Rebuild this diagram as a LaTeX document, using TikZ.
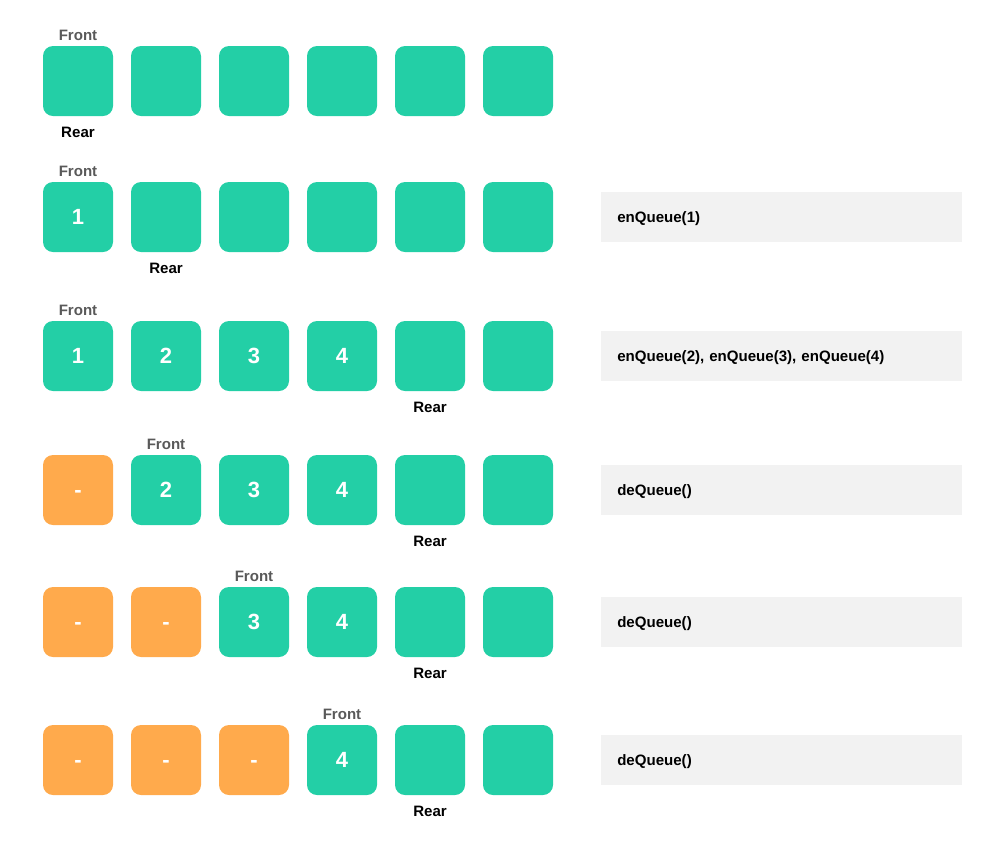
\documentclass[tikz,border=0pt]{standalone}
\usepackage{fontspec}
\setmainfont{Liberation Sans}
\usetikzlibrary{positioning}
\definecolor{cellgreen}{HTML}{23CFA6}
\definecolor{cellorange}{HTML}{FFAA4C}
\definecolor{opgray}{HTML}{F2F2F2}
\definecolor{frontgray}{HTML}{595959}
\tikzset{
  cell/.style={rectangle, rounded corners=7.5pt, minimum size=52.5pt, inner sep=0pt,
    fill=cellgreen, text=white, text height=11.8pt, text depth=0pt,
    font=\bfseries\fontsize{16.5}{20}\selectfont},
  done/.style={cell, fill=cellorange},
  frontlbl/.style={inner sep=0pt, text=frontgray, font=\bfseries\fontsize{11.3}{13}\selectfont},
  rearlbl/.style={inner sep=0pt, text=black, font=\bfseries\fontsize{11.3}{13}\selectfont},
  opbox/.style={rectangle, fill=opgray, anchor=west, minimum height=37.5pt,
    text width=246.75pt, inner xsep=12pt, align=left, text depth=0pt,
    font=\bfseries\fontsize{11.3}{13}\selectfont}
}
\begin{document}
\begin{tikzpicture}[x=0.75pt, y=-0.75pt]
\useasboundingbox (0,0) rectangle (1004,844);
% row 1: empty queue
\node[cell] (a1) at (78,81) {};
\node[cell] (a2) at (166,81) {};
\node[cell] (a3) at (254,81) {};
\node[cell] (a4) at (342,81) {};
\node[cell] (a5) at (430,81) {};
\node[cell] (a6) at (518,81) {};
\node[frontlbl, above=3.75pt of a1] (fa) {Front};
\node[rearlbl, below=8.25pt of a1] (ra) {Rear};
% row 2: enQueue(1)
\node[cell] (b1) at (78,217) {1};
\node[cell] (b2) at (166,217) {};
\node[cell] (b3) at (254,217) {};
\node[cell] (b4) at (342,217) {};
\node[cell] (b5) at (430,217) {};
\node[cell] (b6) at (518,217) {};
\node[frontlbl, above=3.75pt of b1] (fb) {Front};
\node[rearlbl, below=8.25pt of b2] (rb) {Rear};
\node[opbox] (ob) at (601,217) {enQueue(1)};
% row 3: enQueue(2), enQueue(3), enQueue(4)
\node[cell] (c1) at (78,356) {1};
\node[cell] (c2) at (166,356) {2};
\node[cell] (c3) at (254,356) {3};
\node[cell] (c4) at (342,356) {4};
\node[cell] (c5) at (430,356) {};
\node[cell] (c6) at (518,356) {};
\node[frontlbl, above=3.75pt of c1] (fc) {Front};
\node[rearlbl, below=8.25pt of c5] (rc) {Rear};
\node[opbox] (oc) at (601,356) {enQueue(2), enQueue(3), enQueue(4)};
% row 4: deQueue()
\node[done] (d1) at (78,490) {-};
\node[cell] (d2) at (166,490) {2};
\node[cell] (d3) at (254,490) {3};
\node[cell] (d4) at (342,490) {4};
\node[cell] (d5) at (430,490) {};
\node[cell] (d6) at (518,490) {};
\node[frontlbl, above=3.75pt of d2] (fd) {Front};
\node[rearlbl, below=8.25pt of d5] (rd) {Rear};
\node[opbox] (od) at (601,490) {deQueue()};
% row 5: deQueue()
\node[done] (e1) at (78,622) {-};
\node[done] (e2) at (166,622) {-};
\node[cell] (e3) at (254,622) {3};
\node[cell] (e4) at (342,622) {4};
\node[cell] (e5) at (430,622) {};
\node[cell] (e6) at (518,622) {};
\node[frontlbl, above=3.75pt of e3] (fe) {Front};
\node[rearlbl, below=8.25pt of e5] (re) {Rear};
\node[opbox] (oe) at (601,622) {deQueue()};
% row 6: deQueue()
\node[done] (g1) at (78,760) {-};
\node[done] (g2) at (166,760) {-};
\node[done] (g3) at (254,760) {-};
\node[cell] (g4) at (342,760) {4};
\node[cell] (g5) at (430,760) {};
\node[cell] (g6) at (518,760) {};
\node[frontlbl, above=3.75pt of g4] (fg) {Front};
\node[rearlbl, below=8.25pt of g5] (rg) {Rear};
\node[opbox] (og) at (601,760) {deQueue()};
\end{tikzpicture}
\end{document}
